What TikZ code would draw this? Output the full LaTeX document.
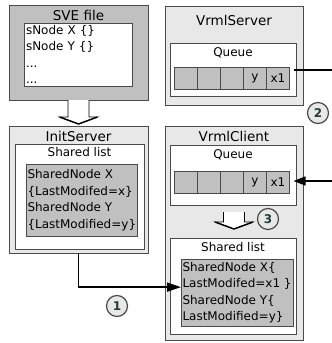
\documentclass[tikz,border=0pt]{standalone}
\usepackage{fontspec}
\setmainfont{DejaVu Sans}
\usetikzlibrary{arrows.meta,calc}
\definecolor{panelgray}{HTML}{E8E8E8}
\definecolor{cellgray}{HTML}{C0C0C0}
\definecolor{edgegray}{HTML}{4A4A4A}
\definecolor{stepink}{HTML}{1E3A3A}
\newcommand\bodyfont{\fontsize{12}{16.5}\selectfont}
\newcommand\titlefont{\fontsize{13.5}{16}\selectfont}
\tikzset{
  panel/.style = {draw=edgegray, fill=panelgray, anchor=north west,
    inner sep=0pt, outer sep=0pt},
  darkpanel/.style = {panel, fill=cellgray},
  well/.style = {draw=edgegray, fill=white, anchor=north west,
    inner sep=0pt, outer sep=0pt},
  listbox/.style = {draw=edgegray, fill=cellgray, anchor=north west,
    inner sep=1.5pt, outer sep=0pt, align=left, font=\bodyfont},
  title/.style = {font=\titlefont, inner sep=0pt},
  caption/.style = {font=\bodyfont, inner sep=0pt},
  cell/.style = {draw=edgegray, fill=cellgray, minimum width=23pt,
    minimum height=22pt, inner sep=0pt, outer sep=0pt, font=\bodyfont},
  stepmark/.style = {circle, draw=edgegray, fill=panelgray, line width=1.2pt,
    minimum size=21pt, inner sep=0pt, font=\bodyfont\bfseries, text=stepink},
  link/.style = {line width=1.6pt},
  hollow/.style = {draw=black, fill=white, line width=0.8pt, line join=miter},
  pics/hollowdown/.style = {code={
    \draw[hollow] (-10.5,0) -- (-10.5,#1) -- (-19,#1) -- (0,#1+7)
      -- (19,#1) -- (10.5,#1) -- (10.5,0);
    \draw[line width=1.4pt] (-19,#1) -- (0,#1+7) -- (19,#1);
  }}
}

\begin{document}
\begin{tikzpicture}[x=1pt,y=-1pt]
  \useasboundingbox (0,0) rectangle (332,343);

  % left column
  \node[darkpanel, minimum width=139pt, minimum height=95pt] (sve) at (9,5) {};
  \node[title] (svetitle) at ([yshift=-10pt]sve.north) {SVE file};
  \node[well, minimum width=108pt, minimum height=63pt, text width=104pt,
        align=left, inner sep=2pt, font=\bodyfont] (svelist) at (24,23)
        {sNode X \{\}\\sNode Y \{\}\\...\\...};

  \node[panel, minimum width=139pt, minimum height=127pt] (init) at (9,126) {};
  \node[title] (inittitle) at ([yshift=-10pt]init.north) {InitServer};
  \node[well, minimum width=129pt, minimum height=105pt] (initwell) at (15,144) {};
  \node[caption] (initcap) at ([yshift=-8pt]initwell.north) {Shared list};
  \node[listbox, minimum width=105pt, minimum height=72pt] (initlist) at (26,164)
    {SharedNode X\\\{LastModifed=x\}\\SharedNode Y\\\{LastModified=y\}};

  % right column
  \node[panel, minimum width=138pt, minimum height=99pt] (vs) at (165,6) {};
  \node[title] (vstitle) at ([yshift=-14pt]vs.north) {VrmlServer};
  \node[well, minimum width=126pt, minimum height=53pt] (vswell) at (170,43) {};
  \node[caption] (vscap) at ([yshift=-10pt]vswell.north) {Queue};
  \foreach \i/\t in {1/,2/,3/,4/y,5/x1}
    \node[cell] (sq\i) at (163+23*\i,78) {\t};

  \node[panel, minimum width=138pt, minimum height=214pt] (vc) at (165,126) {};
  \node[title] (vctitle) at ([yshift=-10pt]vc.north) {VrmlClient};
  \node[well, minimum width=126pt, minimum height=60pt] (vcwell) at (170,145) {};
  \node[caption] (vccap) at ([yshift=-10pt]vcwell.north) {Queue};
  \foreach \i/\t in {1/,2/,3/,4/y,5/x1}
    \node[cell] (cq\i) at (163+23*\i,182) {\t};
  \node[well, minimum width=126pt, minimum height=96pt] (vclistwell) at (170,238) {};
  \node[caption] (vclistcap) at ([yshift=-9pt]vclistwell.north) {Shared list};
  \node[listbox, minimum width=105pt, minimum height=67pt] (vclist) at (181,259)
    {SharedNode X\{\\LastModifed=x1 \}\\SharedNode Y\{\\LastModified=y\}};

  % transfer arrows
  \pic at (sve.south) {hollowdown=17};
  \pic at (234,212) {hollowdown=10};

  \coordinate (srvout) at (332,70);
  \coordinate (clin) at (332,181);
  \draw[link] ([xshift=4pt]sq5.east |- srvout) -- (srvout);
  \draw[link,-{Triangle[length=12pt,width=9pt]}] (clin)
    -- ([xshift=4pt]cq5.east |- clin);
  \draw[link,-{Triangle[length=14pt,width=9pt]}] (init.south)
    |- ($(vclist.north west)!0.42!(vclist.south west)$);

  % steps
  \node[stepmark] (step1) at (117,306) {1};
  \node[stepmark] (step2) at (318,113) {2};
  \node[stepmark] (step3) at (268,219) {3};
\end{tikzpicture}
\end{document}
